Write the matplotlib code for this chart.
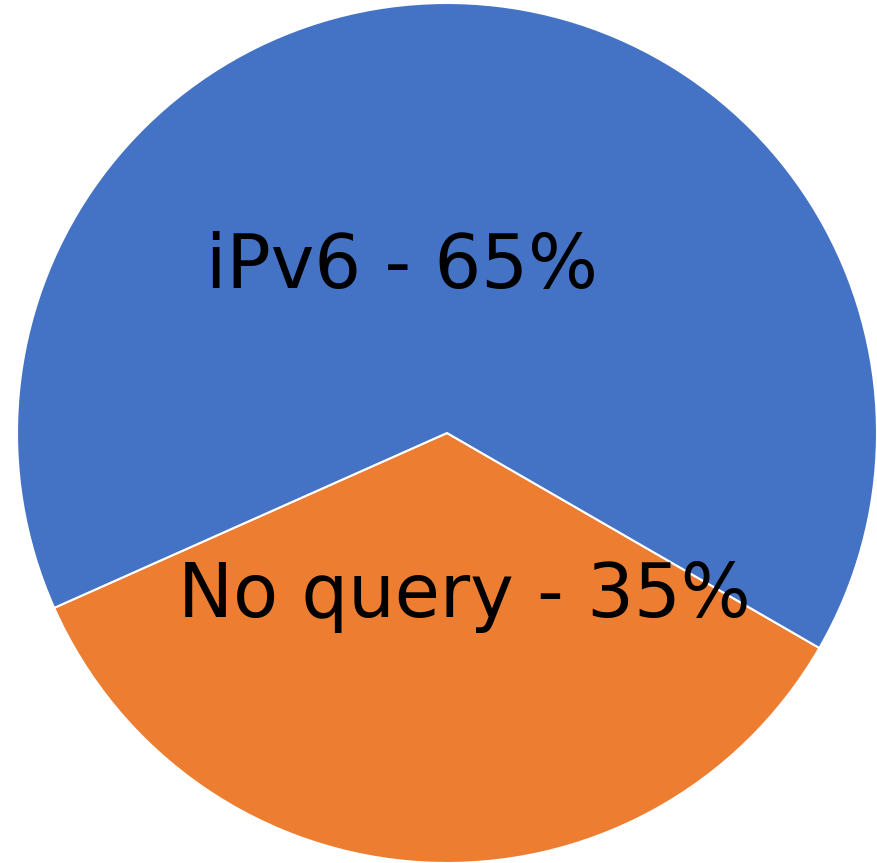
import matplotlib
matplotlib.use("Agg")
import matplotlib.pyplot as plt

labels = ["No query - 35%", "iPv6 - 65%"]
shares = [35, 65]
colors = ["#ED7D31", "#4472C4"]

fig = plt.figure(figsize=(8.77, 8.63), dpi=100)
ax = fig.add_axes([0, 0, 1, 1])

wedges, _ = ax.pie(shares, colors=colors, startangle=204, counterclock=True,
                   radius=1.0, wedgeprops=dict(edgecolor="white", linewidth=1.5))

# label spots picked by eye from the reference
ax.text(-0.105, 0.385, labels[1], ha="center", va="center", fontsize=53, color="black")
ax.text(0.04, -0.38, labels[0], ha="center", va="center", fontsize=53, color="black")

ax.set_aspect("auto")
ax.set_xlim(-447 / 430, (877 - 447) / 430)
ax.set_ylim(-(863 - 433) / 430, 433 / 430)
ax.axis("off")

fig.savefig("out.png", dpi=100, facecolor="white")
